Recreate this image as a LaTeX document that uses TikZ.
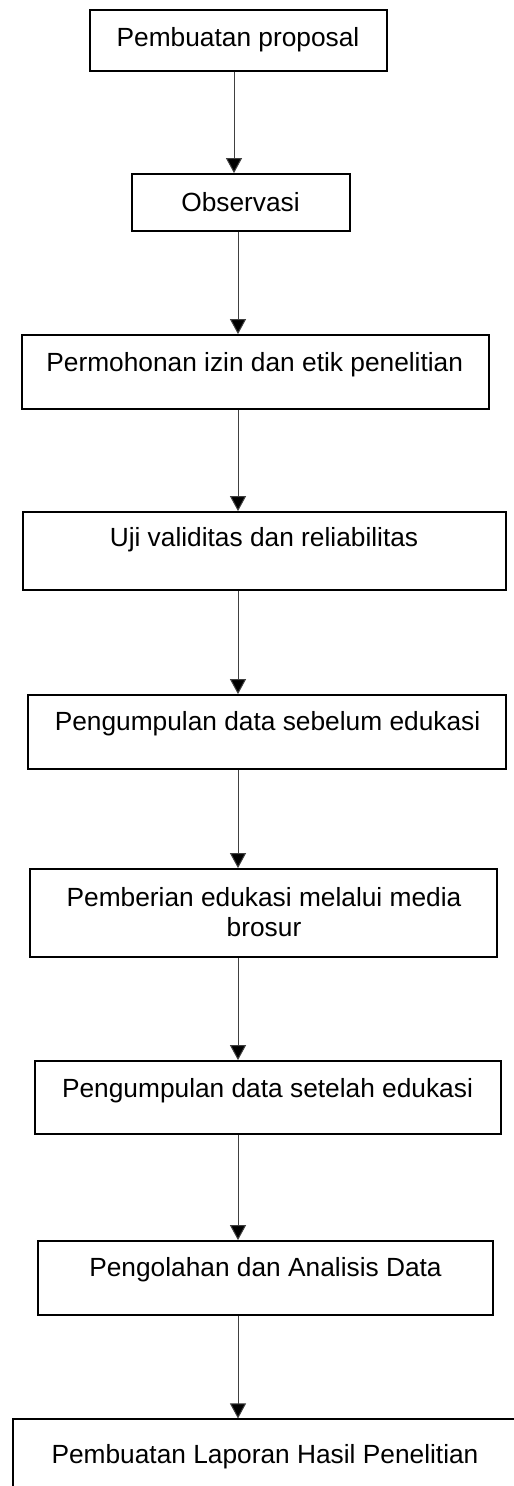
\documentclass[tikz,border=0pt]{standalone}
\usepackage{fontspec}
\setmainfont{Liberation Sans}
\usetikzlibrary{arrows.meta}
\begin{document}
\begin{tikzpicture}[x=1pt,y=-1pt,
  box/.style={draw=black,line width=1.8pt,inner sep=0pt,minimum width=#1},
  lastbox/.style={draw=black,line width=1.1pt,inner sep=0pt,minimum width=#1},
  lbl/.style={font=\fontsize{26.3}{30}\selectfont,inner sep=0pt,anchor=base,align=center},
  arr/.style={draw=black!75,line width=1pt,-{Triangle[width=16pt,length=15pt,fill=black]}}]
\useasboundingbox (0,0) rectangle (514,1486);
\clip (0,0) rectangle (514,1486);
\node[box=297pt,minimum height=61pt] (b1) at (238.5,40.5) {};
\node[box=218pt,minimum height=57pt] (b2) at (241,202.5) {};
\node[box=467pt,minimum height=74pt] (b3) at (255.5,372) {};
\node[box=483pt,minimum height=78pt] (b4) at (264.5,551) {};
\node[box=478pt,minimum height=74pt] (b5) at (267,732) {};
\node[box=467pt,minimum height=88pt] (b6) at (263.5,913) {};
\node[box=466pt,minimum height=73pt] (b7) at (268,1097.5) {};
\node[box=455pt,minimum height=74pt] (b8) at (265.5,1278) {};
\node[lastbox=517pt,minimum height=101pt] (b9) at (271.5,1469.5) {};
\node[lbl] (t1) at (238,46.7) {Pembuatan proposal};
\node[lbl] (t2) at (240.5,211.7) {Observasi};
\node[lbl] (t3) at (254.7,371.7) {Permohonan izin dan etik penelitian};
\node[lbl] (t4) at (264,546.7) {Uji validitas dan reliabilitas};
\node[lbl] (t5) at (267.5,730.7) {Pengumpulan data sebelum edukasi};
\node[lbl] (t6) at (264,936.7) {Pemberian edukasi melalui media\\brosur};
\node[lbl] (t7) at (267.5,1097.3) {Pengumpulan data setelah edukasi};
\node[lbl] (t8) at (265.5,1276.7) {Pengolahan dan Analisis Data};
\node[lbl] (t9) at (265,1463.3) {Pembuatan Laporan Hasil Penelitian};
\coordinate (xa) at (234,0);
\coordinate (xb) at (238,0);
\draw[arr] (b1.south -| xa) -- (b2.north -| xa);
\draw[arr] (b2.south -| xb) -- (b3.north -| xb);
\draw[arr] (b3.south -| xb) -- (b4.north -| xb);
\draw[arr] (b4.south -| xb) -- (b5.north -| xb);
\draw[arr] (b5.south -| xb) -- (b6.north -| xb);
\draw[arr] (b6.south -| xb) -- (b7.north -| xb);
\draw[arr] (b7.south -| xb) -- (b8.north -| xb);
\draw[arr] (b8.south -| xb) -- (b9.north -| xb);
\end{tikzpicture}
\end{document}
